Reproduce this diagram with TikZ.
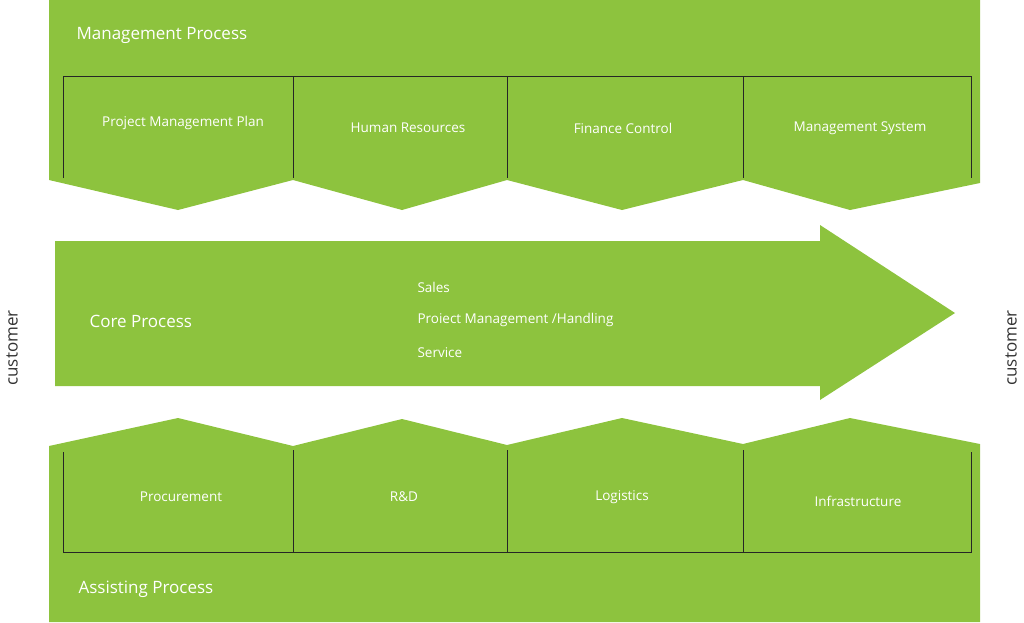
\documentclass[tikz,border=0pt]{standalone}
\usepackage{fontspec}
\setmainfont{Open Sans}
\usetikzlibrary{positioning}
\definecolor{leaf}{RGB}{141,195,62}
\tikzset{band/.style={fill=leaf, draw=none},
cell/.style={draw=black!85, line width=0.9pt},
celltext/.style={text=white, font=\fontsize{13.5}{15}\selectfont},
headtext/.style={text=white, font=\fontsize{17}{19}\selectfont, anchor=west},
side/.style={text=black!80, font=\fontsize{17}{19}\selectfont, rotate=90}}
\begin{document}
\begin{tikzpicture}[x=1pt, y=-1pt]
    \useasboundingbox (0,0) rectangle (1024,622);
    % management band
    \fill[band] (49,0) -- (980,0) -- (980,183) -- (850,210) -- (743,180) -- (622,210)
        -- (507,180) -- (402,210) -- (293,180) -- (178,210) -- (49,180) -- cycle;
    \draw[cell] (63,178) -- (63,76) -- (971,76) -- (971,178);
    \foreach \x in {293,507,743} \draw[cell] (\x,76) -- (\x,178);
    % assisting band
    \fill[band] (49,622) -- (980,622) -- (980,444) -- (850,418) -- (743,444) -- (622,418)
        -- (507,445) -- (402,419) -- (293,446) -- (178,418) -- (49,446) -- cycle;
    \draw[cell] (63,452) -- (63,552) -- (971,552) -- (971,452);
    \foreach \x in {293,507,743} \draw[cell] (\x,450) -- (\x,552);
    % core arrow
    \fill[band] (55,241) -- (820,241) -- (820,225) -- (955,313) -- (820,400)
        -- (820,386) -- (55,386) -- cycle;

    \node[headtext] (mgmt) at (73,35) {Management Process};
    \node[headtext] (core) at (86,321) {Core Process};
    \node[headtext] (assist) at (75,589) {Assisting Process};

    \node[celltext] (plan) at (183,123) {Project Management Plan};
    \node[celltext] (hr) at (408,128) {Human Resources};
    \node[celltext] (fin) at (623,128) {Finance Control};
    \node[celltext] (sys) at (860,128) {Management System};

    \node[celltext, anchor=west] (sales) at (414,287) {Sales};
    \node[celltext, anchor=west] (pm) at (414,320) {Proiect Management /Handling};
    \node[celltext, anchor=west] (svc) at (414,353) {Service};

    \node[celltext] (proc) at (181,497) {Procurement};
    \node[celltext] (rd) at (404,497) {R\&D};
    \node[celltext] (log) at (622,497) {Logistics};
    \node[celltext] (infra) at (858,501) {Infrastructure};

    \node[side] (custl) at (12,348) {customer};
    \node[side] (custr) at (1011,348) {customer};
\end{tikzpicture}
\end{document}
